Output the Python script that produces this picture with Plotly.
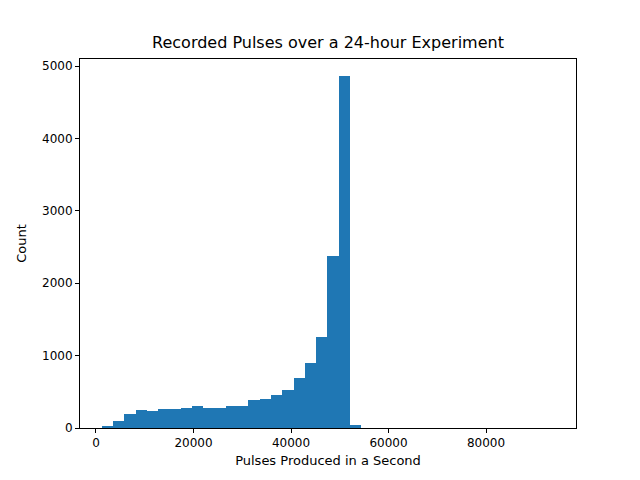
import plotly.graph_objects as go

bin_start = 1175
bin_width = 2315
counts = [28, 97, 194, 249, 235, 263, 263, 276, 304, 276, 276, 304, 304, 387, 401, 456,
          525, 691, 899, 1258, 2370, 4860, 40] + [0] * 17

centers = [bin_start + bin_width * (i + 0.5) for i in range(len(counts))]

fig = go.Figure(go.Bar(x=centers, y=counts, width=bin_width, marker=dict(color="#1f77b4", line=dict(width=0))))
ax = dict(showline=True, linecolor="black", linewidth=1, mirror=True, ticks="outside",
          ticklen=4, tickcolor="black", showgrid=False, zeroline=False,
          tickfont=dict(family="DejaVu Sans", size=12, color="black"))
fig.update_layout(
    width=640, height=480, plot_bgcolor="white", paper_bgcolor="white",
    margin=dict(l=72, r=72, t=51, b=60, autoexpand=False), bargap=0, showlegend=False,
    title=dict(text="Recorded Pulses over a 24-hour Experiment", x=0.5, xanchor="center", y=0.94,
               font=dict(family="DejaVu Sans", size=16, color="black")),
    xaxis=dict(ax, range=[-3280, 98450], tickvals=[0, 20000, 40000, 60000, 80000],
               ticktext=["0", "20000", "40000", "60000", "80000"],
               title=dict(text="Pulses Produced in a Second", standoff=6, font=dict(family="DejaVu Sans", size=13, color="black"))),
    yaxis=dict(ax, range=[0, 5097], tickvals=[0, 1000, 2000, 3000, 4000, 5000],
               title=dict(text="Count", standoff=12, font=dict(family="DejaVu Sans", size=13, color="black"))),
)
fig.write_html("out.html")
